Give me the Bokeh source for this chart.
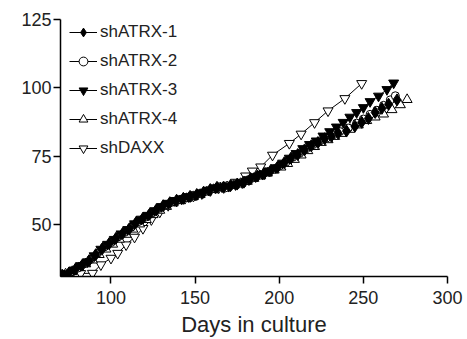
import numpy as np
from bokeh.plotting import figure
from bokeh.models import Range1d, FixedTicker, Legend, LegendItem
from bokeh.embed import file_html
from bokeh.resources import INLINE

# ---- data ----
atrx1_days = [71, 75, 79, 83, 87, 91, 95, 99, 103, 107, 111, 115, 119, 123, 127, 131, 135, 139, 143, 147,
              151, 155, 159, 163, 167, 171, 175, 179, 183, 187, 191, 195, 199, 203, 207, 211, 215, 219, 223, 227,
              231, 235, 240, 245, 249, 253, 257, 261, 265, 270]
atrx1_vals = [31.5, 32.3, 33.8, 35.2, 36.8, 39.0, 41.3, 43.1, 45.0, 46.8, 48.5, 50.8, 52.3, 53.8, 55.4, 56.9, 58.0, 58.9, 59.6, 60.3,
              61.0, 61.8, 62.8, 63.6, 63.6, 64.2, 64.8, 65.5, 66.8, 67.8, 68.6, 69.8, 71.0, 72.6, 74.3, 75.6, 77.3, 78.8, 80.0, 81.4,
              82.3, 83.4, 84.2, 86.0, 87.4, 88.8, 91.0, 92.5, 94.0, 95.6]

atrx2_days = [72, 76, 80, 84, 88, 92, 96, 100, 104, 108, 112, 116, 120, 124, 128, 132, 136, 140, 144, 148,
              152, 156, 160, 164, 168, 172, 176, 180, 184, 188, 192, 196, 200, 204, 208, 212, 216, 220, 224, 228,
              232, 236, 241, 246, 250, 254, 258, 262, 266, 269]
atrx2_vals = [31.8, 32.6, 34.0, 35.6, 37.3, 39.5, 41.8, 43.4, 45.4, 47.1, 49.0, 51.0, 52.6, 54.2, 55.8, 57.1, 58.2, 59.0, 59.8, 60.6,
              61.2, 62.1, 63.0, 63.8, 63.4, 64.5, 65.0, 65.9, 67.0, 68.0, 69.2, 70.1, 71.4, 72.8, 74.6, 76.0, 77.7, 79.2, 80.5, 81.6,
              82.8, 84.0, 85.3, 87.1, 88.6, 90.3, 91.8, 93.6, 95.6, 97.1]

atrx3_days = [71, 74, 78, 82, 86, 90, 94, 98, 102, 106, 110, 114, 118, 122, 126, 130, 134, 138, 142, 146,
              150, 154, 158, 162, 166, 170, 174, 178, 182, 186, 190, 194, 198, 202, 206, 210, 214, 218, 222, 226,
              230, 234, 238, 242, 246, 250, 254, 259, 264, 268]
atrx3_vals = [31.6, 32.0, 33.4, 35.0, 36.4, 38.6, 41.0, 42.8, 44.6, 46.6, 48.2, 50.3, 52.0, 53.4, 55.1, 56.6, 57.8, 58.8, 59.4, 60.2,
              60.8, 61.6, 62.6, 63.4, 63.8, 64.0, 64.6, 65.3, 66.4, 67.5, 68.4, 69.6, 70.8, 72.5, 74.3, 76.0, 77.8, 79.3, 80.6, 82.4,
              84.0, 85.7, 87.4, 89.3, 91.0, 92.8, 95.0, 97.0, 99.4, 101.8]

atrx4_days = [73, 77, 81, 85, 89, 93, 97, 101, 105, 109, 113, 117, 121, 125, 129, 133, 137, 141, 145, 149,
              153, 157, 161, 165, 169, 173, 177, 181, 185, 189, 193, 197, 201, 205, 209, 213, 217, 221, 225, 229,
              233, 237, 242, 247, 252, 257, 262, 267, 272, 276]
atrx4_vals = [31.9, 32.8, 34.2, 35.6, 37.0, 39.0, 41.0, 42.8, 44.6, 46.4, 48.3, 50.2, 51.8, 53.6, 55.2, 56.6, 57.9, 58.7, 59.5, 60.2,
              61.0, 61.9, 62.8, 63.4, 63.8, 64.3, 65.0, 65.8, 66.9, 67.8, 68.8, 69.9, 71.0, 72.3, 73.8, 75.4, 77.0, 78.5, 80.0, 81.0,
              82.2, 83.3, 84.8, 86.4, 88.0, 89.3, 90.4, 92.0, 93.8, 95.7]

daxx_days = [71, 76, 82, 89, 94, 100, 104, 109, 114, 119, 124, 129, 134, 139, 144, 149, 154, 159, 164, 169,
             174, 180, 184, 189, 196, 206, 213, 221, 229, 239, 249]
daxx_vals = [31.5, 32.0, 32.1, 32.2, 35.3, 37.7, 39.5, 42.6, 45.4, 48.6, 51.8, 54.6, 57.0, 58.6, 59.6, 60.4, 61.3, 62.4, 63.4, 64.4,
             65.5, 67.8, 69.6, 71.1, 75.4, 79.7, 83.1, 87.3, 91.6, 96.1, 101.6]

x_ticks = [100, 150, 200, 250, 300]
y_ticks = [50, 75, 100, 125]
labels = ["shATRX-1", "shATRX-2", "shATRX-3", "shATRX-4", "shDAXX"]
x_title = "Days in culture"

FONT = "Liberation Sans"

p = figure(width=467, height=339, x_range=Range1d(70, 300), y_range=Range1d(31, 125),
           output_backend="svg", toolbar_location=None,
           min_border_left=60, min_border_right=20, min_border_top=19, min_border_bottom=63)
p.outline_line_color = None
p.xgrid.visible = False
p.ygrid.visible = False
p.background_fill_color = "white"
p.border_fill_color = "white"

for ax in (p.xaxis[0], p.yaxis[0]):
    ax.axis_line_width = 1.5
    ax.axis_line_color = "black"
    ax.major_tick_line_width = 1.5
    ax.major_tick_line_color = "black"
    ax.major_tick_out = 7
    ax.major_tick_in = 0
    ax.minor_tick_line_color = None
    ax.major_label_text_font = FONT
    ax.major_label_text_font_size = "18px"
    ax.major_label_text_color = "#222222"

p.xaxis.ticker = FixedTicker(ticks=x_ticks)
p.yaxis.ticker = FixedTicker(ticks=y_ticks)
p.xaxis.major_label_standoff = 7
p.yaxis.major_label_standoff = 2
p.xaxis.axis_label = x_title
p.xaxis.axis_label_text_font = FONT
p.xaxis.axis_label_text_font_size = "22px"
p.xaxis.axis_label_text_font_style = "normal"
p.xaxis.axis_label_text_color = "#222222"
p.xaxis.axis_label_standoff = 5

series = [
    (atrx1_days, atrx1_vals, dict(marker="diamond", size=12, fill_color="black")),
    (atrx2_days, atrx2_vals, dict(marker="circle", size=8, fill_color="white")),
    (atrx3_days, atrx3_vals, dict(marker="inverted_triangle", size=10, fill_color="black")),
    (atrx4_days, atrx4_vals, dict(marker="triangle", size=10, fill_color="white")),
    (daxx_days, daxx_vals, dict(marker="inverted_triangle", size=10, fill_color="white")),
]

renderers = []
for d, v, m in series:
    ln = p.line(d, v, line_color="black", line_width=1)
    renderers.append([ln])

# draw markers: DAXX first, filled diamonds on top
order = [4, 3, 1, 2, 0]
for i in order:
    d, v, m = series[i]
    sc = p.scatter(d, v, line_color="black", line_width=1, **m)
    renderers[i].append(sc)

items = [LegendItem(label=labels[i], renderers=renderers[i]) for i in range(5)]
legend = Legend(items=items, location=(9, 117), orientation="vertical",
                glyph_width=28, glyph_height=22, label_height=22, spacing=7,
                label_standoff=3, padding=0, margin=0,
                label_text_font=FONT, label_text_font_size="17px", label_text_color="#222222",
                border_line_color=None, background_fill_alpha=0)
p.add_layout(legend, "center")

open("out.html", "w").write(file_html(p, INLINE))
